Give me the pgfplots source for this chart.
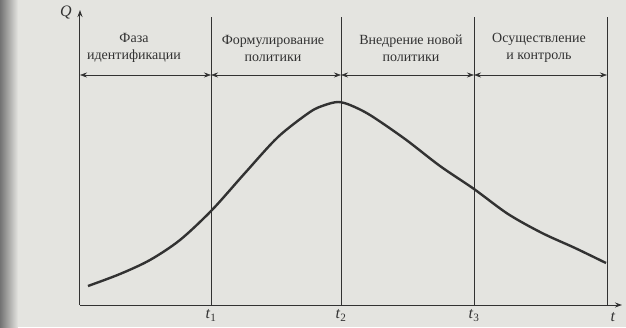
\documentclass[border=0pt]{standalone}
\usepackage{fontspec}
\setmainfont{Liberation Serif}
\usepackage{pgfplots}
\pgfplotsset{compat=1.18}
\usetikzlibrary{arrows.meta,backgrounds}
\definecolor{paper}{RGB}{228,228,224}
\definecolor{ink}{RGB}{50,50,50}
\begin{document}
\begin{tikzpicture}[show background rectangle, inner frame sep=0pt,
  background rectangle/.style={fill=paper, draw=none}]
\begin{axis}[
  x=1pt, y=1pt,
  xmin=0, xmax=542, ymin=0, ymax=295,
  axis lines=left,
  axis line style={ink, line width=1pt, -{Stealth[length=7pt,width=5pt]}},
  clip=false,
  xtick={131,261,394},
  xticklabels={\textit{t}\textsubscript{1},\textit{t}\textsubscript{2},\textit{t}\textsubscript{3}},
  ytick=\empty,
  major tick length=0pt,
  xticklabel style={font=\fontsize{16}{16}\selectfont, text=ink, yshift=-1pt},
  /pgf/number format/assume math mode=true,
]
\path (axis cs:-80,-22) rectangle (axis cs:546,305);
\shade[left color=black!55, right color=paper] (axis cs:-80,-22) rectangle (axis cs:-62,305);
% phase boundaries
\addplot[ink, line width=0.6pt] coordinates {(131,0) (131,288)};
\addplot[ink, line width=0.6pt] coordinates {(261,0) (261,288)};
\addplot[ink, line width=0.6pt] coordinates {(394,0) (394,288)};
\addplot[ink, line width=0.6pt] coordinates {(527,0) (527,288)};
% phase arrows
\addplot[ink, line width=0.6pt, {Stealth[length=7pt,width=5pt]}-{Stealth[length=7pt,width=5pt]}] coordinates {(0,230) (131,230)};
\addplot[ink, line width=0.6pt, {Stealth[length=7pt,width=5pt]}-{Stealth[length=7pt,width=5pt]}] coordinates {(131,230) (261,230)};
\addplot[ink, line width=0.6pt, {Stealth[length=7pt,width=5pt]}-{Stealth[length=7pt,width=5pt]}] coordinates {(261,230) (394,230)};
\addplot[ink, line width=0.6pt, {Stealth[length=7pt,width=5pt]}-{Stealth[length=7pt,width=5pt]}] coordinates {(394,230) (527,230)};
% curve
\addplot[ink, line width=2.4pt, smooth] coordinates {
 (8,19) (40,31) (70,45) (100,65) (132,95) (165,132) (198,168) (230,193)
 (245,200) (258,203) (270,200) (290,190) (325,166) (360,139) (394,116)
 (428,91) (462,72) (495,57) (526,42)};
% labels
\begin{scope}[font=\fontsize{14}{17}\selectfont, text=ink]
\node[align=center] at (axis cs:54,257) {Фаза\\идентификации};
\node[align=center] at (axis cs:193,257) {Формулирование\\политики};
\node[align=center] at (axis cs:331,257) {Внедрение новой\\политики};
\node[align=center] at (axis cs:459,257) {Осуществление\\и контроль};
\node at (axis cs:-14,292) {\fontsize{16}{16}\selectfont\textit{Q}};
\node at (axis cs:533,-12) {\fontsize{16}{16}\selectfont\textit{t}};
\end{scope}
\end{axis}
\end{tikzpicture}
\end{document}
